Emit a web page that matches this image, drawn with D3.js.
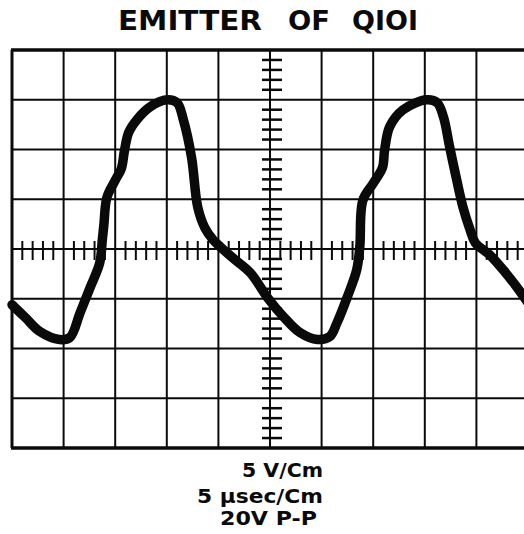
<!DOCTYPE html>
<html>
<head>
<meta charset="utf-8">
<script src="https://cdn.jsdelivr.net/npm/d3@7"></script>
<style>
  html, body { margin: 0; padding: 0; background: #fff; }
  svg { display: block; }
</style>
</head>
<body>
<svg id="scope" width="524" height="534"></svg>
<script>
// Scope trace: time in microseconds, voltage in volts (5 µs/cm, 5 V/cm)
const timeUs = [0, 1.3, 2.7, 4.6, 5.6, 6.6, 7.6, 8.5, 8.75, 8.9, 9.2, 10.0, 10.6, 10.9, 11.3, 12.1, 13.4, 15.0,
  16.0, 16.6, 17.4, 18.0, 18.7, 19.5, 20.2, 21.4, 23.1, 24.7, 26.3, 27.9, 29.6, 30.8, 31.5, 32.5, 33.4, 33.7,
  34.0, 35.0, 35.9, 36.1, 36.6, 37.9, 40.2, 41.2, 41.8, 42.4, 43.1, 43.7, 44.4, 44.9, 46.3, 47.6, 48.9, 50.0];
const voltsV = [-5.6, -6.9, -8.3, -9.1, -8.9, -6.4, -3.8, -1.4, 0.9, 2.4, 5.2, 6.9, 8.1, 9.9, 11.7, 13.0, 14.3, 15.0,
  14.7, 13.0, 9.2, 4.2, 2.1, 0.9, 0.2, -0.9, -2.4, -4.8, -6.8, -8.4, -9.1, -8.8, -7.4, -4.8, -2.1, 0.2,
  4.9, 6.6, 8.2, 9.9, 12.3, 14.0, 15.0, 14.7, 13.3, 10.3, 6.9, 4.2, 1.9, 0.6, -0.6, -2.1, -3.8, -5.4];

// Graticule: major divisions and fine marks along the centre axes
const majorTimeTicks = [0, 5, 10, 15, 20, 25, 30, 35, 40, 45, 50];
const majorVoltTicks = [-20, -15, -10, -5, 0, 5, 10, 15, 20];
const minorTimeTicks = d3.range(0, 51, 1).filter(t => t % 5 !== 0);
const minorVoltTicks = d3.range(-20, 21, 1).filter(v => v % 5 !== 0);

const titleWords = ["EMITTER", "OF", "QIOI"];
const captionLines = ["5 V/Cm", "5 µsec/Cm", "20V P-P"];

const svg = d3.select("#scope");
const x = d3.scaleLinear().domain([0, 50]).range([12, 528]);
const y = d3.scaleLinear().domain([-20, 20]).range([448, 50]);

const ink = "#0a0a0a";
const font = "'DejaVu Sans', 'Liberation Sans', sans-serif";

// title, one word at a time with wide gaps between words
const titleLayout = [[118, 144], [288, 42], [352, 66]];
svg.selectAll("text.title").data(titleWords).join("text")
  .attr("class", "title")
  .attr("x", (d, i) => titleLayout[i][0]).attr("y", 30)
  .attr("textLength", (d, i) => titleLayout[i][1])
  .attr("lengthAdjust", "spacingAndGlyphs")
  .attr("font-family", font).attr("font-weight", "bold")
  .attr("font-size", 27).attr("fill", ink)
  .text(d => d);

const grid = svg.append("g");

// vertical grid lines
grid.selectAll("line.v").data(majorTimeTicks).join("line")
  .attr("class", "v")
  .attr("x1", d => x(d)).attr("x2", d => x(d))
  .attr("y1", y(20)).attr("y2", y(-20))
  .attr("stroke", ink).attr("stroke-width", d => (d === 0 ? 3 : 2));

// horizontal grid lines
grid.selectAll("line.h").data(majorVoltTicks).join("line")
  .attr("class", "h")
  .attr("x1", x(0) - 1).attr("x2", x(50))
  .attr("y1", d => y(d)).attr("y2", d => y(d))
  .attr("stroke", ink).attr("stroke-width", d => (Math.abs(d) === 20 ? 3.5 : 2));

// fine marks on the horizontal centre axis
grid.selectAll("line.mt").data(minorTimeTicks).join("line")
  .attr("class", "mt")
  .attr("x1", d => x(d)).attr("x2", d => x(d))
  .attr("y1", y(0) - 8).attr("y2", y(0) + 11)
  .attr("stroke", ink).attr("stroke-width", 2);

// fine marks on the vertical centre axis
grid.selectAll("line.mv").data(minorVoltTicks).join("line")
  .attr("class", "mv")
  .attr("x1", x(25) - 8).attr("x2", x(25) + 12)
  .attr("y1", d => y(d)).attr("y2", d => y(d))
  .attr("stroke", ink).attr("stroke-width", 2.5);

// trace
const pts = timeUs.map((t, i) => [t, voltsV[i]]);
const line = d3.line()
  .x(d => x(d[0])).y(d => y(d[1]))
  .curve(d3.curveCatmullRom.alpha(0.5));
svg.append("path")
  .attr("d", line(pts))
  .attr("fill", "none").attr("stroke", ink)
  .attr("stroke-width", 9.5)
  .attr("stroke-linejoin", "round").attr("stroke-linecap", "round");

// settings caption
const captionLayout = [[242, 477, 81], [197, 503, 126], [220, 525, 97]];
svg.selectAll("text.cap").data(captionLines).join("text")
  .attr("class", "cap")
  .attr("x", (d, i) => captionLayout[i][0]).attr("y", (d, i) => captionLayout[i][1])
  .attr("textLength", (d, i) => captionLayout[i][2])
  .attr("lengthAdjust", "spacingAndGlyphs")
  .attr("font-family", font).attr("font-weight", "bold")
  .attr("font-size", 19).attr("fill", ink)
  .text(d => d);
</script>
</body>
</html>
